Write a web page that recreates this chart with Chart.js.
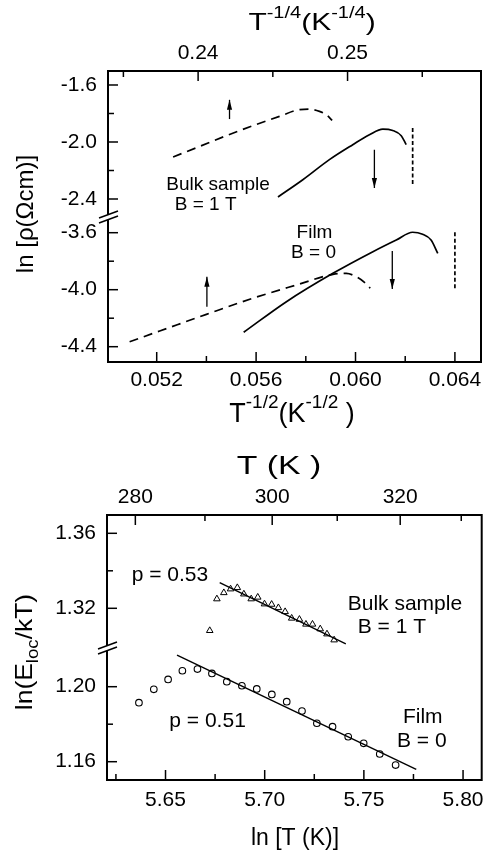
<!DOCTYPE html>
<html>
<head>
<meta charset="utf-8">
<title>ln rho and ln Eloc</title>
<script src="https://cdn.jsdelivr.net/npm/chart.js@4.4.1/dist/chart.umd.min.js"></script>
<style>
  html, body { margin: 0; padding: 0; background: #fff; }
  .panel { position: absolute; left: 0; width: 492px; }
</style>
</head>
<body>
<div class="panel" style="top:0;height:440px"><canvas id="rho" width="492" height="440"></canvas></div>
<div class="panel" style="top:440px;height:413px"><canvas id="eloc" width="492" height="413"></canvas></div>
<script>
'use strict';

const FONT = '"Liberation Sans", Arial, Helvetica, sans-serif';

// ---------- upper figure: ln rho against T^-1/2 ----------
const bulkDashX  = [0.05266, 0.05373, 0.05480, 0.05587, 0.05694, 0.05775, 0.05815, 0.05855, 0.05882, 0.05906];
const bulkDashY  = [-2.105, -2.031, -1.956, -1.886, -1.820, -1.773, -1.770, -1.785, -1.808, -1.848];
const bulkSolidX = [0.05688, 0.05788, 0.05895, 0.05989, 0.06056, 0.06110, 0.06150, 0.06184, 0.06204];
const bulkSolidY = [-2.386, -2.265, -2.124, -2.019, -1.949, -1.909, -1.919, -1.956, -2.019];
const filmDashX  = [0.05091, 0.05212, 0.05400, 0.05587, 0.05762, 0.05909, 0.05963, 0.06003, 0.06036, 0.06059];
const filmDashY  = [-4.365, -4.290, -4.173, -4.060, -3.967, -3.892, -3.885, -3.909, -3.948, -3.990];
const filmSolidX = [0.05550, 0.05722, 0.05909, 0.06070, 0.06164, 0.06230, 0.06270, 0.06304, 0.06331];
const filmSolidY = [-4.299, -4.084, -3.885, -3.733, -3.651, -3.597, -3.611, -3.651, -3.745];

// short vertical dashed markers
const markX      = [0.06230, 0.06400];
const markTop    = [-1.902, -3.597];
const markBottom = [-2.300, -4.000];
const markAxis   = ['yU', 'yL'];

// arrows (from -> to, head at "to")
const arrowX    = [0.05493, 0.06076, 0.05402, 0.06148];
const arrowFrom = [-1.839, -2.055, -4.119, -3.728];
const arrowTo   = [-1.704, -2.323, -3.909, -3.995];
const arrowAxis = ['yU', 'yU', 'yL', 'yL'];

const rhoXTicks    = [0.052, 0.054, 0.056, 0.058, 0.060, 0.062, 0.064];
const rhoXLabels   = [0.052, 0.056, 0.060, 0.064];
const t4Ticks      = [0.235, 0.240, 0.245, 0.250, 0.255];
const t4Labels     = [0.24, 0.25];
const rhoUpTicks   = [-2.4, -2.2, -2.0, -1.8, -1.6];
const rhoUpLabels  = [-2.4, -2.0, -1.6];
const rhoLowTicks  = [-4.4, -4.2, -4.0, -3.8, -3.6];
const rhoLowLabels = [-4.4, -4.0, -3.6];

// ---------- lower figure: ln(Eloc/kT) against ln T ----------
const bulkLnT = [5.6723, 5.6759, 5.6794, 5.6828, 5.6862, 5.6895, 5.6932, 5.6965, 5.6999, 5.7035,
                 5.7069, 5.7103, 5.7136, 5.7175, 5.7208, 5.7241, 5.7280, 5.7314, 5.7350];
const bulkLnE = [1.3081, 1.3250, 1.3283, 1.3303, 1.3310, 1.3276, 1.3250, 1.3259, 1.3223, 1.3221,
                 1.3203, 1.3182, 1.3147, 1.3141, 1.3115, 1.3115, 1.3090, 1.3063, 1.3031];
const filmLnT = [5.6366, 5.6441, 5.6513, 5.6585, 5.6661, 5.6734, 5.6809, 5.6885, 5.6960, 5.7036,
                 5.7111, 5.7188, 5.7263, 5.7342, 5.7421, 5.7499, 5.7580, 5.7660];
const filmLnE = [1.1915, 1.1986, 1.2039, 1.2085, 1.2094, 1.2071, 1.2027, 1.2005, 1.1988, 1.1959,
                 1.1920, 1.1870, 1.1805, 1.1787, 1.1733, 1.1698, 1.1641, 1.1582];
const bulkFitX = [5.6773, 5.7409];
const bulkFitY = [1.3337, 1.3010];
const filmFitX = [5.6558, 5.7764];
const filmFitY = [1.2169, 1.1559];

const lnTTicks      = [5.625, 5.650, 5.675, 5.700, 5.725, 5.750, 5.775, 5.800];
const lnTLabels     = [5.65, 5.70, 5.75, 5.80];
const tempTicks     = [280, 290, 300, 310, 320, 330];
const tempLabels    = [280, 300, 320];
const elocUpTicks   = [1.32, 1.34, 1.36];
const elocUpLabels  = [1.32, 1.36];
const elocLowTicks  = [1.16, 1.18, 1.20];
const elocLowLabels = [1.16, 1.20];

Chart.defaults.font.family = FONT;
Chart.defaults.color = '#000';

const has = (list, v) => list.some(l => Math.abs(l - v) < 1e-9);
const pts = (xs, ys) => xs.map((x, i) => ({ x: x, y: ys[i] }));

/**
 * Linear axis with fixed ticks, only some of them labelled.
 */
function axis(position, min, max, tickValues, isLabelled, format, pad, size, extra) {
    return Object.assign({
        type: 'linear',
        position: position,
        min: min,
        max: max,
        grid: { display: false, drawTicks: false },
        border: { display: false },
        afterBuildTicks: s => { s.ticks = tickValues.map(v => ({ value: v })); },
        afterFit: s => {
            if (position === 'left') s.width = size; else s.height = size;
        },
        ticks: {
            autoSkip: false,
            maxRotation: 0,
            padding: pad,
            font: { size: 21 },
            callback: v => isLabelled(v) ? format(v) : ''
        }
    }, extra || {});
}

function line(data, yAxis, dash, width, smooth) {
    return {
        data: data,
        yAxisID: yAxis,
        borderColor: '#000',
        borderWidth: width,
        borderDash: dash,
        pointRadius: 0,
        tension: smooth ? 0.4 : 0,
        cubicInterpolationMode: smooth ? 'monotone' : 'default',
        fill: false
    };
}

/**
 * Draws text made of pieces with their own size and baseline shift.
 */
function richText(ctx, parts, cx, cy, rot, sx) {
    ctx.save();
    ctx.translate(cx, cy);
    if (rot) ctx.rotate(rot);
    ctx.scale(sx || 1, 1);
    ctx.textAlign = 'left';
    ctx.textBaseline = 'alphabetic';
    let w = 0;
    parts.forEach(p => { ctx.font = p[1] + 'px ' + FONT; w += ctx.measureText(p[0]).width; });
    let x = -w / 2;
    parts.forEach(p => {
        ctx.font = p[1] + 'px ' + FONT;
        ctx.fillText(p[0], x, p[2] || 0);
        x += ctx.measureText(p[0]).width;
    });
    ctx.restore();
}

// frame, inward ticks, axis break, arrow heads and texts
const figure = {
    id: 'figure',
    afterDraw(chart, args, opts) {
        const ctx = chart.ctx;
        const area = chart.chartArea;
        ctx.save();
        ctx.strokeStyle = '#000';
        ctx.fillStyle = '#000';

        ctx.lineWidth = 1.5;
        Object.values(chart.scales).forEach(s => {
            s.ticks.forEach(t => {
                const len = t.label === '' ? 6 : 10;
                const p = s.getPixelForValue(t.value);
                ctx.beginPath();
                if (s.position === 'left') {
                    ctx.moveTo(area.left, p); ctx.lineTo(area.left + len, p);
                } else if (s.position === 'top') {
                    ctx.moveTo(p, area.top); ctx.lineTo(p, area.top + len);
                } else {
                    ctx.moveTo(p, area.bottom); ctx.lineTo(p, area.bottom - len);
                }
                ctx.stroke();
            });
        });

        ctx.lineWidth = 2;
        ctx.strokeRect(area.left, area.top, area.width, area.height);

        // "//" break on the left axis
        const yb = chart.scales.yU.bottom + 1;
        const x0 = area.left - 9, x1 = area.left + 10, rise = 7, gap = 5;
        ctx.fillStyle = '#fff';
        ctx.beginPath();
        ctx.moveTo(x0, yb + rise / 2 - gap / 2);
        ctx.lineTo(x1, yb - rise / 2 - gap / 2);
        ctx.lineTo(x1, yb - rise / 2 + gap / 2);
        ctx.lineTo(x0, yb + rise / 2 + gap / 2);
        ctx.closePath();
        ctx.fill();
        ctx.lineWidth = 1.5;
        [-gap / 2, gap / 2].forEach(d => {
            ctx.beginPath();
            ctx.moveTo(x0, yb + rise / 2 + d);
            ctx.lineTo(x1, yb - rise / 2 + d);
            ctx.stroke();
        });
        ctx.fillStyle = '#000';

        chart.data.datasets.forEach((ds, i) => {
            if (!ds.arrowHead) return;
            const el = chart.getDatasetMeta(i).data;
            const tip = el[el.length - 1], tail = el[0];
            const dir = tip.y < tail.y ? 1 : -1;
            ctx.beginPath();
            ctx.moveTo(tip.x, tip.y);
            ctx.lineTo(tip.x - 2.6, tip.y + dir * 10);
            ctx.lineTo(tip.x + 2.6, tip.y + dir * 10);
            ctx.closePath();
            ctx.fill();
        });

        ctx.textAlign = 'center';
        ctx.textBaseline = 'alphabetic';
        (opts.notes || []).forEach(n => {
            ctx.font = opts.noteSize + 'px ' + FONT;
            ctx.fillText(n.text, chart.scales.x.getPixelForValue(n.x), chart.scales[n.axis].getPixelForValue(n.y));
        });
        (opts.titles || []).forEach(t => richText(ctx, t.parts, t.x, t.y, t.rot, t.sx));
        ctx.restore();
    }
};

// ---------- chart 1 ----------
const rhoSets = [
    line(pts(bulkDashX, bulkDashY), 'yU', [9, 6], 1.7, true),
    line(pts(bulkSolidX, bulkSolidY), 'yU', [], 1.7, true),
    line(pts(filmDashX, filmDashY), 'yL', [9, 6], 1.7, true),
    line(pts(filmSolidX, filmSolidY), 'yL', [], 1.7, true)
];
markX.forEach((x, i) => {
    rhoSets.push(line(pts([x, x], [markTop[i], markBottom[i]]), markAxis[i], [4, 2.5], 1.7, false));
});
arrowX.forEach((x, i) => {
    const ds = line(pts([x, x], [arrowFrom[i], arrowTo[i]]), arrowAxis[i], [], 1.3, false);
    ds.arrowHead = true;
    rhoSets.push(ds);
});

new Chart(document.getElementById('rho'), {
    type: 'line',
    data: { datasets: rhoSets },
    options: {
        responsive: false,
        animation: false,
        layout: { padding: { left: 0, right: 11, top: 0, bottom: 0 } },
        scales: {
            x: axis('bottom', 0.05004, 0.06505, rhoXTicks, v => has(rhoXLabels, v), v => v.toFixed(3), 6, 78),
            x2: axis('top', 0.23397, 0.25893, t4Ticks, v => has(t4Labels, v), v => v.toFixed(2), 5, 71),
            yU: axis('left', -2.5193, -1.5018, rhoUpTicks, v => has(rhoUpLabels, v), v => v.toFixed(1), 11, 108,
                { stack: 'rho', stackWeight: 145, weight: 2 }),
            yL: axis('left', -4.5074, -3.4828, rhoLowTicks, v => has(rhoLowLabels, v), v => v.toFixed(1), 11, 108,
                { stack: 'rho', stackWeight: 146, weight: 1 })
        },
        plugins: {
            legend: { display: false },
            tooltip: { enabled: false },
            figure: {
                noteSize: 19,
                notes: [
                    { text: 'Bulk sample', x: 0.05447, y: -2.335, axis: 'yU' },
                    { text: 'B = 1 T', x: 0.05397, y: -2.475, axis: 'yU' },
                    { text: 'Film', x: 0.05835, y: -3.637, axis: 'yL' },
                    { text: 'B = 0', x: 0.05831, y: -3.781, axis: 'yL' }
                ],
                titles: [
                    { parts: [['T', 24], ['-1/4', 16, -12], ['(K', 24], ['-1/4', 16, -12], [')', 24]], x: 312, y: 30, sx: 1.25 },
                    { parts: [['T', 27], ['-1/2', 19, -14], ['(K', 27], ['-1/2', 19, -14], [' )', 27]], x: 292, y: 422 },
                    { parts: [['ln [ρ(Ωcm)]', 24]], x: 33, y: 214, rot: -Math.PI / 2 }
                ]
            }
        }
    },
    plugins: [figure]
});

// ---------- chart 2 ----------
const elocSets = [
    {
        data: pts(bulkLnT, bulkLnE), yAxisID: 'yU', showLine: false,
        pointStyle: 'triangle', pointRadius: 3.8, borderWidth: 1,
        borderColor: '#000', backgroundColor: 'rgba(0,0,0,0)'
    },
    {
        data: pts(filmLnT, filmLnE), yAxisID: 'yL', showLine: false,
        pointStyle: 'circle', pointRadius: 3.3, borderWidth: 1.1,
        borderColor: '#000', backgroundColor: 'rgba(0,0,0,0)'
    },
    line(pts(bulkFitX, bulkFitY), 'yU', [], 1.4, false),
    line(pts(filmFitX, filmFitY), 'yL', [], 1.4, false)
];

new Chart(document.getElementById('eloc'), {
    type: 'line',
    data: { datasets: elocSets },
    options: {
        responsive: false,
        animation: false,
        layout: { padding: { left: 0, right: 9, top: 0, bottom: 0 } },
        scales: {
            x: axis('bottom', 5.6205, 5.8094, lnTTicks, v => has(lnTLabels, v), v => v.toFixed(2), 8, 73),
            x2: axis('top', 5.6205, 5.8094, tempTicks.map(t => Math.log(t)),
                v => has(tempLabels, Math.round(Math.exp(v))), v => String(Math.round(Math.exp(v))), 5, 75),
            yU: axis('left', 1.29936, 1.36976, elocUpTicks, v => has(elocUpLabels, v), v => v.toFixed(2), 11, 107,
                { stack: 'eloc', stackWeight: 132, weight: 2 }),
            yL: axis('left', 1.15024, 1.22117, elocLowTicks, v => has(elocLowLabels, v), v => v.toFixed(2), 11, 107,
                { stack: 'eloc', stackWeight: 133, weight: 1 })
        },
        plugins: {
            legend: { display: false },
            tooltip: { enabled: false },
            figure: {
                noteSize: 21,
                notes: [
                    { text: 'p = 0.53', x: 5.6522, y: 1.3346, axis: 'yU' },
                    { text: 'Bulk sample', x: 5.7707, y: 1.3191, axis: 'yU' },
                    { text: 'B = 1 T', x: 5.7641, y: 1.3068, axis: 'yU' },
                    { text: 'p = 0.51', x: 5.6712, y: 1.1785, axis: 'yL' },
                    { text: 'Film', x: 5.7797, y: 1.1806, axis: 'yL' },
                    { text: 'B = 0', x: 5.7792, y: 1.1678, axis: 'yL' }
                ],
                titles: [
                    { parts: [['T (K )', 26]], x: 279, y: 34, sx: 1.3 },
                    { parts: [['ln [T (K)]', 23]], x: 295, y: 405 },
                    { parts: [['ln(E', 24], ['loc', 17, 6], ['/kT)', 24]], x: 32, y: 212, rot: -Math.PI / 2, sx: 1.1 }
                ]
            }
        }
    },
    plugins: [figure]
});
</script>
</body>
</html>
